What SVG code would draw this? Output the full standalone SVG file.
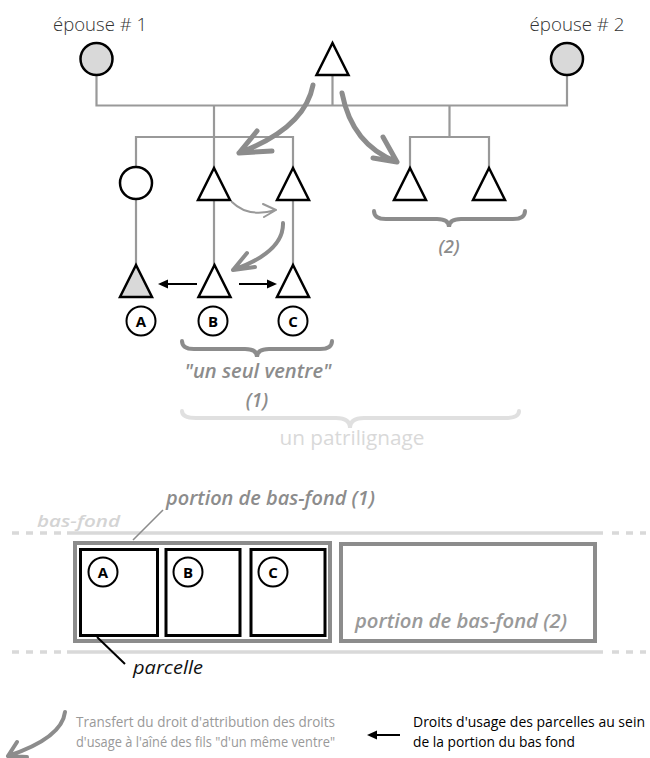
<svg xmlns="http://www.w3.org/2000/svg" width="650" height="758" viewBox="0 0 650 758">
<defs>
<style>
.ln{stroke:#999;stroke-width:2.2;fill:none}
.sh{stroke:#000;stroke-width:2.5;fill:#fff}
.big{stroke:#8c8c8c;stroke-width:5;fill:none;stroke-linecap:round;stroke-linejoin:round}
.med{stroke:#8c8c8c;stroke-width:4;fill:none;stroke-linecap:round;stroke-linejoin:round}
.thin{stroke:#999;stroke-width:2;fill:none;stroke-linecap:round;stroke-linejoin:round}
.brace{stroke:#8c8c8c;stroke-width:4;fill:none;stroke-linecap:round}
.lbrace{stroke:#e0e0e0;stroke-width:4;fill:none;stroke-linecap:round}
.t{font-family:"Open Sans","Liberation Sans",sans-serif}
.lt{font-family:"Open Sans","Liberation Sans",sans-serif;font-size:15px;font-weight:bold;text-anchor:middle}
.gi{font-family:"Open Sans","Liberation Sans",sans-serif;font-style:italic;font-weight:600;fill:#8c8c8c}
.bf{stroke:#d9d9d9;stroke-width:3.5}
.bfd{stroke:#d9d9d9;stroke-width:3.5;stroke-dasharray:7 7}
.por{stroke:#8c8c8c;stroke-width:4;fill:#fff}
.par{stroke:#000;stroke-width:3;fill:#fff}
.lc{stroke:#000;stroke-width:2;fill:#fff}
</style>
</defs>

<g id="connectors">
<path class="ln" d="M96.5,75 V105.5 H567 V75 M332.5,75 V105.5 M214,105.5 V168 M136,167 V137 H293 V168 M449.5,105.5 V137 M410,168 V137 H489 V168"/>
<path class="ln" d="M136,199 V265 M214,200 V265 M293,200 V265"/>
<path class="big" d="M313,85 Q305,128 239,153 M257,131 L239,153 L272,151"/>
<path class="big" d="M342,93 Q352,145 397,162 M383,137 L397,162 L373,158"/>
<path class="thin" d="M232,202 Q248,218 276,210 M263,204 L276,210 L264,217"/>
<path class="med" d="M283,223 Q284,252 233,270 M247,253 L233,270 L255,267"/>
<g stroke="#000" stroke-width="2" fill="#000">
<line x1="197" y1="284" x2="166" y2="284"/>
<polygon points="158,284 168,279.5 168,288.5" stroke="none"/>
<line x1="239" y1="284" x2="269" y2="284"/>
<polygon points="277,284 267,279.5 267,288.5" stroke="none"/>
</g>
</g>

<g id="epouse1">
<text class="t" x="100" y="31" font-size="18" font-weight="300" fill="#333" text-anchor="middle" textLength="94" lengthAdjust="spacingAndGlyphs">épouse # 1</text>
<circle class="sh" cx="96.5" cy="59" r="16" style="fill:#d9d9d9"/>
</g>
<g id="epouse2">
<text class="t" x="577" y="31" font-size="18" font-weight="300" fill="#333" text-anchor="middle" textLength="95" lengthAdjust="spacingAndGlyphs">épouse # 2</text>
<circle class="sh" cx="567" cy="59" r="16" style="fill:#d9d9d9"/>
</g>
<g id="pere"><polygon class="sh" points="332.5,43 316.5,75 348.5,75"/></g>

<g id="fille"><circle class="sh" cx="136" cy="183" r="16"/></g>
<g id="fils1"><polygon class="sh" points="214,168 198,200 230,200"/></g>
<g id="fils2"><polygon class="sh" points="293,168 277,200 309,200"/></g>
<g id="fils3"><polygon class="sh" points="410,168 394,200 426,200"/></g>
<g id="fils4"><polygon class="sh" points="489,168 473,200 505,200"/></g>

<g id="A"><polygon class="sh" points="136,265 120,297 152,297" style="fill:#d9d9d9"/>
<circle class="lc" cx="141" cy="321" r="14.5"/><text class="lt" x="141" y="326.5">A</text></g>
<g id="B"><polygon class="sh" points="214.5,265 198.5,297 230.5,297"/>
<circle class="lc" cx="213" cy="321" r="14.5"/><text class="lt" x="213" y="326.5">B</text></g>
<g id="C"><polygon class="sh" points="293,265 277,297 309,297"/>
<circle class="lc" cx="293" cy="321" r="14.5"/><text class="lt" x="293" y="326.5">C</text></g>

<g id="brace2">
<path class="brace" d="M374,211 Q374,219 386,219 L437,219 Q449,219 449,227 Q449,219 461,219 L513,219 Q525,219 525,211"/>
<text class="gi" x="449" y="253" font-size="18" text-anchor="middle">(2)</text>
</g>
<g id="brace1">
<path class="brace" d="M182,341 Q182,349 194,349 L245,349 Q257,349 257,357 Q257,349 269,349 L320,349 Q332,349 332,341"/>
<text class="gi" x="258" y="378" font-size="19" text-anchor="middle" textLength="147" lengthAdjust="spacingAndGlyphs">"un seul ventre"</text>
<text class="gi" x="257" y="407" font-size="19" text-anchor="middle">(1)</text>
</g>
<g id="patrilignage">
<path class="lbrace" d="M182,411 Q182,418 196,418 L336,418 Q350,418 350,428 Q350,418 364,418 L505,418 Q519,418 519,411"/>
<text class="t" x="352" y="445" font-size="20" fill="#d9d9d9" text-anchor="middle" textLength="145" lengthAdjust="spacingAndGlyphs">un patrilignage</text>
</g>

<g id="basfond">
<line class="bfd" x1="12" y1="533" x2="63" y2="533"/>
<line class="bf" x1="67" y1="533" x2="603" y2="533"/>
<line class="bfd" x1="612" y1="533" x2="646" y2="533"/>
<line class="bfd" x1="12" y1="652" x2="63" y2="652"/>
<line class="bf" x1="67" y1="652" x2="603" y2="652"/>
<line class="bfd" x1="612" y1="652" x2="646" y2="652"/>
<text class="gi" x="37" y="527" font-size="17" style="fill:#d4d4d4" textLength="83" lengthAdjust="spacingAndGlyphs">bas-fond</text>
</g>

<g id="portion1">
<rect class="por" x="75" y="543" width="255" height="98"/>
<line x1="133" y1="540" x2="163" y2="510" stroke="#8c8c8c" stroke-width="1.6"/>
<text class="gi" x="166" y="505" font-size="19" textLength="209" lengthAdjust="spacingAndGlyphs">portion de bas-fond (1)</text>
</g>
<g id="portion2">
<rect class="por" x="341" y="544" width="254" height="97"/>
<text class="gi" x="355" y="628" font-size="19" style="fill:#999" textLength="212" lengthAdjust="spacingAndGlyphs">portion de bas-fond (2)</text>
</g>
<g id="parcelleA"><rect class="par" x="80.5" y="549.5" width="77" height="86"/>
<circle class="lc" cx="103" cy="572" r="14.5"/><text class="lt" x="103" y="577.5">A</text></g>
<g id="parcelleB"><rect class="par" x="166" y="549.5" width="74" height="86"/>
<circle class="lc" cx="188" cy="572" r="14.5"/><text class="lt" x="188" y="577.5">B</text></g>
<g id="parcelleC"><rect class="par" x="251" y="549.5" width="74" height="86"/>
<circle class="lc" cx="273" cy="572" r="14.5"/><text class="lt" x="273" y="577.5">C</text></g>
<g id="parcelle">
<line x1="97" y1="637" x2="125" y2="664" stroke="#000" stroke-width="2"/>
<text class="t" x="133" y="674" font-size="19" font-style="italic" fill="#111" textLength="70" lengthAdjust="spacingAndGlyphs">parcelle</text>
</g>

<g id="legende1">
<path class="med" d="M65,712 Q62,738 8,756 M17,742 L8,756 L27,757"/>
<text class="t" font-size="14" fill="#999"><tspan x="76" y="727" textLength="259" lengthAdjust="spacingAndGlyphs">Transfert du droit d'attribution des droits</tspan><tspan x="76" y="747" textLength="259" lengthAdjust="spacingAndGlyphs">d'usage à l'aîné des fils "d'un même ventre"</tspan></text>
</g>
<g id="legende2">
<line x1="400" y1="735" x2="376" y2="735" stroke="#000" stroke-width="2"/>
<polygon points="367,735 377,730.5 377,739.5" fill="#000"/>
<text class="t" font-size="14" fill="#000"><tspan x="413" y="727" textLength="232" lengthAdjust="spacingAndGlyphs">Droits d'usage des parcelles au sein</tspan><tspan x="413" y="747" textLength="162" lengthAdjust="spacingAndGlyphs">de la portion du bas fond</tspan></text>
</g>
</svg>
